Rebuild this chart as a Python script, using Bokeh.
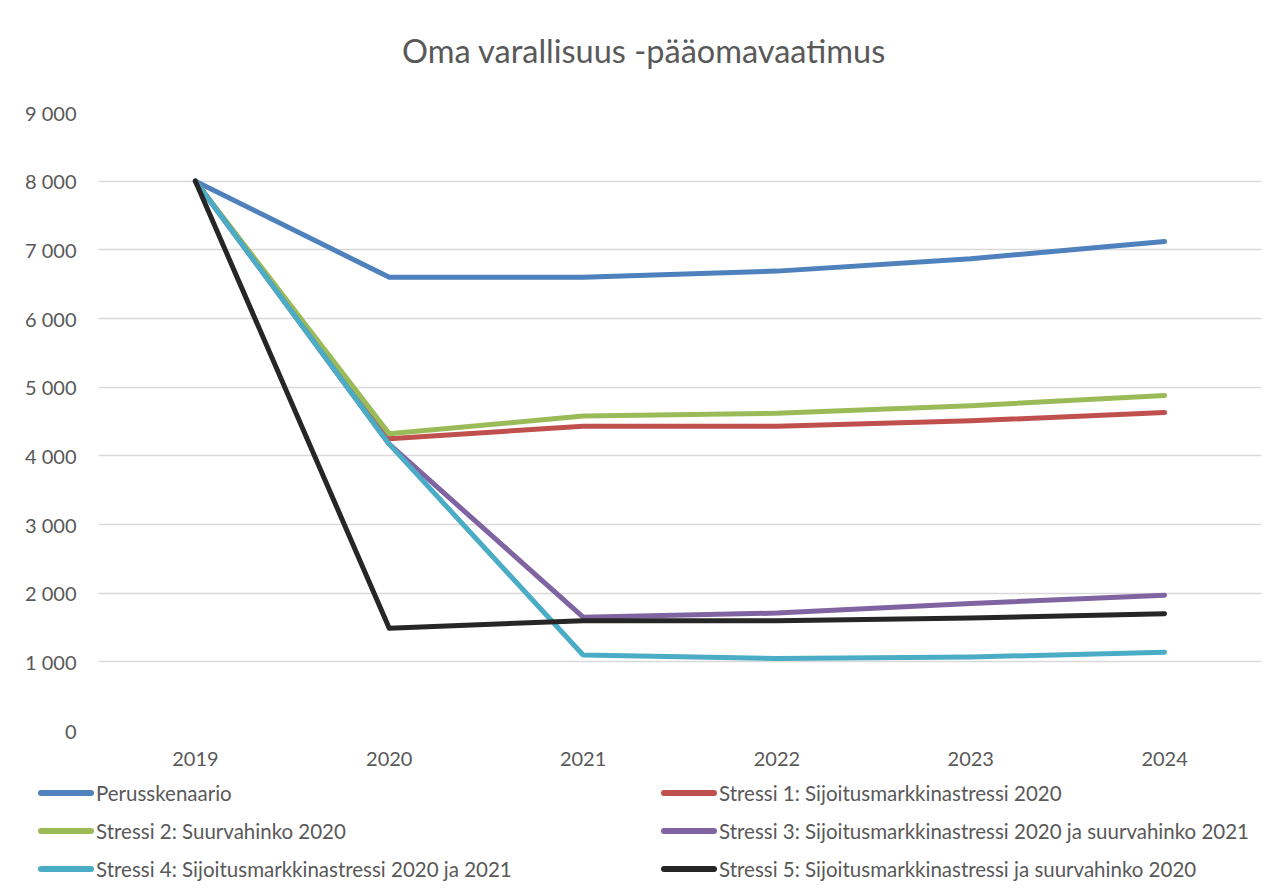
from bokeh.plotting import figure
from bokeh.layouts import column
from bokeh.models import FixedTicker, Range1d, Div
from bokeh.embed import file_html
from bokeh.resources import INLINE

title_text = "Oma varallisuus -pääomavaatimus"
years = [2019, 2020, 2021, 2022, 2023, 2024]
year_labels = ["2019", "2020", "2021", "2022", "2023", "2024"]
perusskenaario = [8000, 6600, 6600, 6690, 6870, 7120]
stressi1 = [8000, 4250, 4430, 4430, 4510, 4630]
stressi2 = [8000, 4320, 4580, 4620, 4730, 4880]
stressi3 = [8000, 4170, 1650, 1710, 1850, 1970]
stressi4 = [8000, 4170, 1100, 1050, 1070, 1140]
stressi5 = [8000, 1490, 1600, 1600, 1640, 1700]

y_ticks = [0, 1000, 2000, 3000, 4000, 5000, 6000, 7000, 8000, 9000]
y_tick_labels = ["0", "1 000", "2 000", "3 000", "4 000", "5 000", "6 000", "7 000", "8 000", "9 000"]

series_names = [
    "Perusskenaario",
    "Stressi 1: Sijoitusmarkkinastressi 2020",
    "Stressi 2: Suurvahinko 2020",
    "Stressi 3: Sijoitusmarkkinastressi 2020 ja suurvahinko 2021",
    "Stressi 4: Sijoitusmarkkinastressi 2020 ja 2021",
    "Stressi 5: Sijoitusmarkkinastressi ja suurvahinko 2020",
]
series_values = [perusskenaario, stressi1, stressi2, stressi3, stressi4, stressi5]
colors = ["#4F81BD", "#C0504D", "#9BBB59", "#8064A2", "#4BACC6", "#262626"]

FONT = "Lato"
TEXT = "#595959"

# title block
title_div = Div(
    text=(f'<div style="position:relative;width:1272px;height:80px;">'
          f'<div style="position:absolute;left:402px;top:31px;height:40px;line-height:40px;'
          f'white-space:nowrap;font-family:Lato;font-size:32.5px;color:{TEXT};">{title_text}</div></div>'),
    width=1272, height=80, margin=0,
)

p = figure(
    width=1272, height=695,
    output_backend="svg", toolbar_location=None,
    x_range=Range1d(2018.5, 2024.5), y_range=Range1d(0, 9000),
    min_border_left=98, min_border_right=11, min_border_top=32, min_border_bottom=45,
)
p.title.visible = False
p.background_fill_color = "white"
p.border_fill_color = "white"
p.outline_line_color = None

p.xgrid.grid_line_color = None
p.ygrid.grid_line_color = "#D9D9D9"
p.ygrid.grid_line_width = 1.5
p.ygrid.ticker = FixedTicker(ticks=y_ticks)

p.yaxis.ticker = FixedTicker(ticks=y_ticks)
p.yaxis.major_label_overrides = {t: l for t, l in zip(y_ticks, y_tick_labels)}
p.xaxis.ticker = FixedTicker(ticks=years)
p.xaxis.major_label_overrides = {y: l for y, l in zip(years, year_labels)}

for ax in (p.xaxis, p.yaxis):
    ax.axis_line_color = None
    ax.major_tick_line_color = None
    ax.minor_tick_line_color = None
    ax.major_label_text_font = FONT
    ax.major_label_text_font_size = "20px"
    ax.major_label_text_color = TEXT
p.yaxis.major_label_standoff = 16
p.xaxis.major_label_standoff = 15

for name, vals, c in zip(series_names, series_values, colors):
    p.line(years, vals, line_color=c, line_width=5, line_cap="round", line_join="round")

# legend (3 rows x 2 columns, row-major like the original)
parts = []
for i, (name, c) in enumerate(zip(series_names, colors)):
    row, col = divmod(i, 2)
    left = 38 + col * 623
    top = 6 + row * 38
    parts.append(
        f'<div style="position:absolute;left:{left}px;top:{top}px;height:24px;'
        f'display:flex;align-items:center;white-space:nowrap;">'
        f'<span style="display:inline-block;width:56px;height:6px;border-radius:3px;'
        f'background:{c};margin-right:2px;"></span>'
        f'<span style="font-family:Lato;font-size:20.5px;line-height:24px;color:{TEXT};">{name}</span></div>'
    )
legend_div = Div(
    text=f'<div style="position:relative;width:1272px;height:104px;">{"".join(parts)}</div>',
    width=1272, height=104, margin=0,
)

layout = column(title_div, p, legend_div, spacing=0, width=1272, height=879)
layout.styles = {"background": "white"}

open("out.html", "w").write(file_html(layout, INLINE))
